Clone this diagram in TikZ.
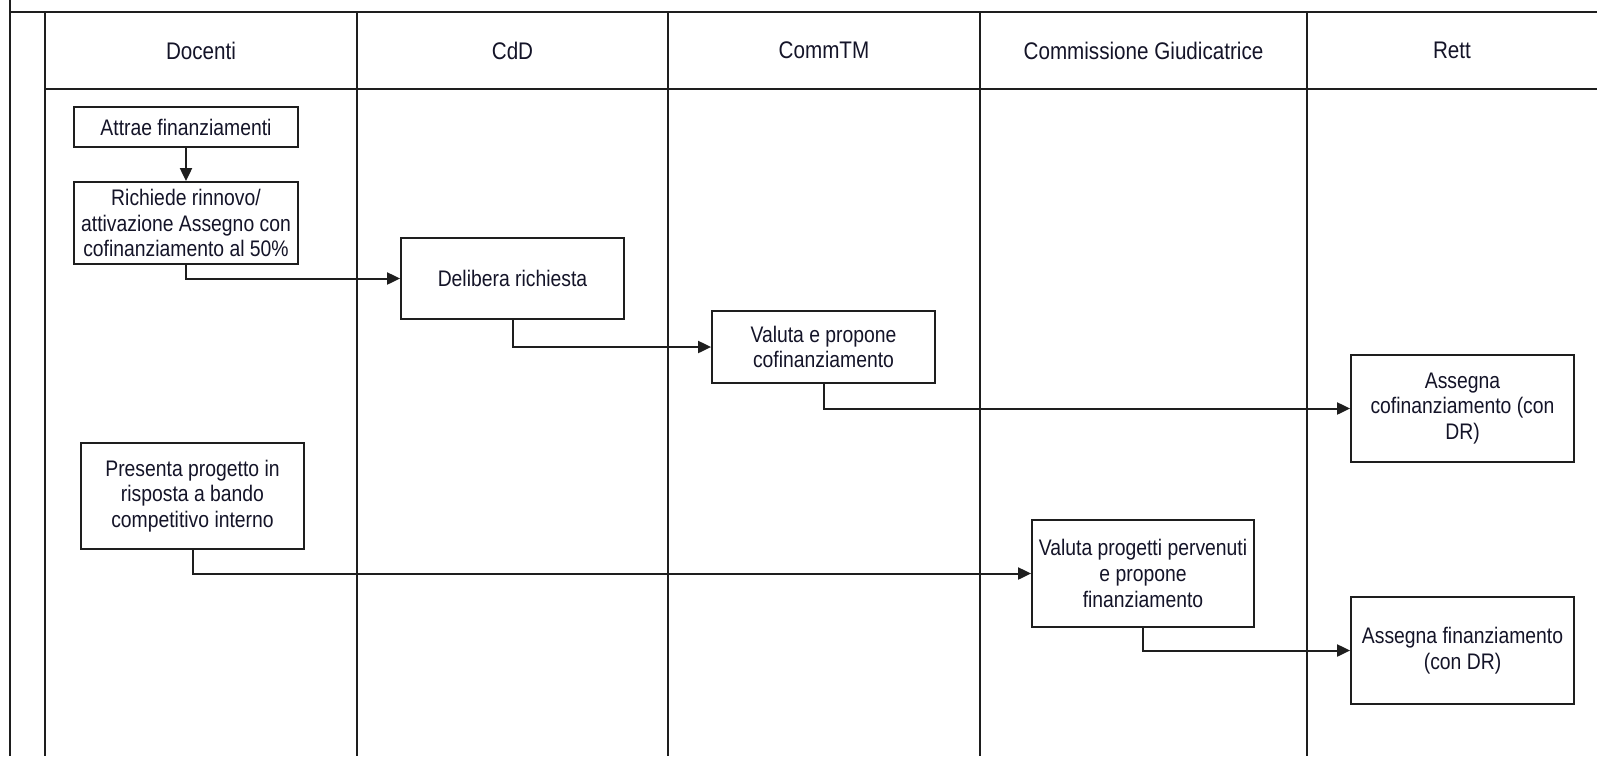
\documentclass[tikz,border=0pt]{standalone}
\usepackage{fontspec}
\setmainfont[FakeStretch=0.86]{Liberation Sans}
\usetikzlibrary{arrows.meta}
\definecolor{linec}{HTML}{1E1E1E}
\definecolor{textc}{HTML}{141428}
\begin{document}
\begin{tikzpicture}[x=1pt,y=-1pt,
  lane/.style={draw=linec,line width=2pt},
  header/.style={font=\fontsize{24}{28}\selectfont,text=textc,inner sep=0pt},
  task/.style={draw=linec,line width=1.8pt,fill=white,align=center,inner sep=0pt,
    font=\fontsize{22.5}{25.8}\selectfont,text=textc},
  flow/.style={draw=linec,line width=2pt,-{Triangle[length=13pt,width=12pt]}}]
\useasboundingbox (0,0) rectangle (1597,756);
% pool and lanes
\draw[lane] (10,0) -- (10,756);
\draw[lane] (10,12) -- (1597,12);
\draw[lane] (45,12) -- (45,756);
\draw[lane] (45,89) -- (1597,89);
\draw[lane] (357,12) -- (357,756);
\draw[lane] (668,12) -- (668,756);
\draw[lane] (980,12) -- (980,756);
\draw[lane] (1307,12) -- (1307,756);
% headers
\node[header] (hdoc) at (201,50.5) {Docenti};
\node[header] (hcdd) at (512.5,50.5) {CdD};
\node[header] (hctm) at (824,50.5) {CommTM};
\node[header] (hcg) at (1143.5,50.5) {Commissione Giudicatrice};
\node[header] (hrett) at (1452,50.5) {Rett};
% tasks
\node[task,minimum width=224pt,minimum height=40pt] (attrae) at (186,127) {Attrae finanziamenti};
\node[task,minimum width=224pt,minimum height=82pt] (richiede) at (186,223) {Richiede rinnovo/\\attivazione Assegno con\\cofinanziamento al 50\%};
\node[task,minimum width=223pt,minimum height=81pt] (delibera) at (512.5,278.5) {Delibera richiesta};
\node[task,minimum width=223pt,minimum height=72pt] (valuta) at (823.5,347) {Valuta e propone\\cofinanziamento};
\node[task,minimum width=223pt,minimum height=107pt] (asscof) at (1462.5,408.5) {Assegna\\cofinanziamento (con\\DR)};
\node[task,minimum width=223pt,minimum height=106pt] (presenta) at (192.5,496) {Presenta progetto in\\risposta a bando\\competitivo interno};
\node[task,minimum width=222pt,minimum height=107pt] (valprj) at (1143,573.5) {Valuta progetti pervenuti\\e propone\\finanziamento};
\node[task,minimum width=223pt,minimum height=107pt] (assfin) at (1462.5,650.5) {Assegna finanziamento\\(con DR)};
% flows
\draw[flow] (attrae.south) -- (richiede.north);
\draw[flow] (richiede.south) |- (delibera.west);
\draw[flow] (delibera.south) |- (valuta.west);
\draw[flow] (valuta.south) |- (asscof.west);
\draw[flow] (presenta.south) |- (valprj.west);
\draw[flow] (valprj.south) |- (assfin.west);
\end{tikzpicture}
\end{document}
